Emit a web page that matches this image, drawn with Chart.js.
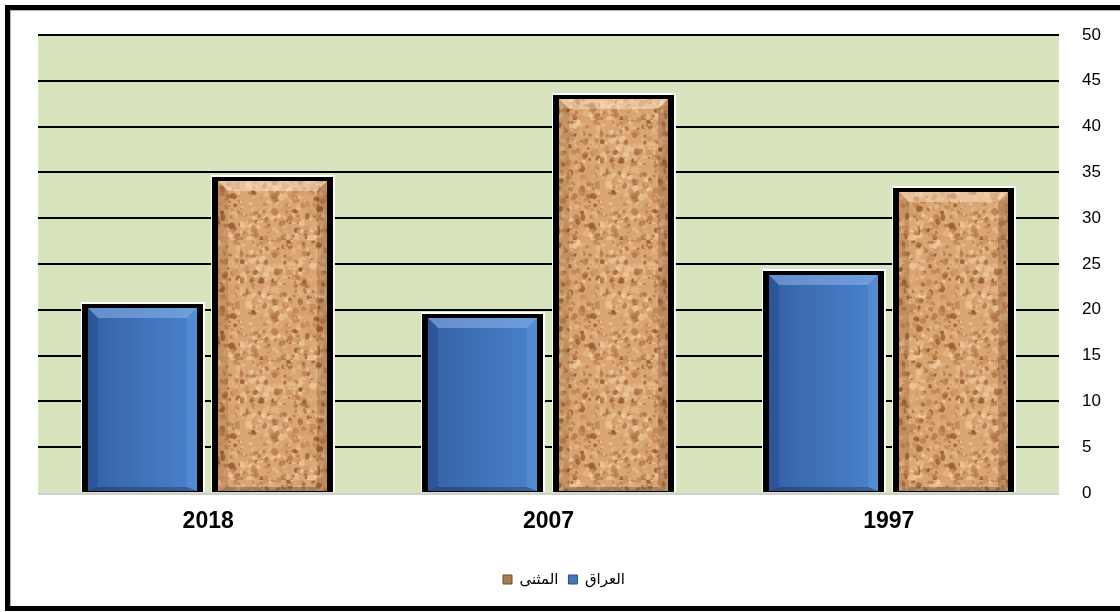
<!DOCTYPE html>
<html>
<head>
<meta charset="utf-8">
<script src="https://cdn.jsdelivr.net/npm/chart.js@4.4.1/dist/chart.umd.min.js"></script>
<style>
    html, body { margin: 0; padding: 0; background: #fff; }
    #wrap { position: relative; width: 1120px; height: 612px; overflow: hidden; }
    #frame { position: absolute; left: 5px; top: 5px; width: 1200px; height: 606px; box-sizing: border-box;
             border: 5px solid #000; box-shadow: inset 1px 1px 0 #b4b4b4; pointer-events: none; }
    canvas { position: absolute; left: 0; top: 0; }
</style>
</head>
<body>
<div id="wrap">
    <canvas id="chart" width="1120" height="612"></canvas>
    <div id="frame"></div>
</div>
<script>
const categories = ['2018', '2007', '1997'];
const iraqValues = [20.7, 19.6, 24.3];
const muthannaValues = [34.6, 43.6, 33.4];
const seriesNames = ['العراق', 'المثنى'];
const yMax = 50;
const yStep = 5;

// cork-like texture for the المثنى bars (styling only)
function makeCork() {
    const c = document.createElement('canvas');
    c.width = c.height = 120;
    const g = c.getContext('2d');
    g.fillStyle = '#d9a574';
    g.fillRect(0, 0, 120, 120);
    let s = 11;
    const rnd = () => { s = (s * 16807) % 2147483647; return s / 2147483647; };
    const tones = ['#f2cda2', '#e8b886', '#d39b66', '#b57844', '#93582d'];
    for (let i = 0; i < 900; i++) {
        const x = rnd() * 120, y = rnd() * 120, r = 1 + rnd() * 2.6;
        g.fillStyle = tones[Math.floor(rnd() * tones.length)];
        g.globalAlpha = 0.35 + rnd() * 0.5;
        g.beginPath();
        g.ellipse(x, y, r, r * (0.6 + rnd() * 0.6), rnd() * Math.PI, 0, Math.PI * 2);
        g.fill();
    }
    return c;
}

const ctx = document.getElementById('chart').getContext('2d');
const cork = ctx.createPattern(makeCork(), 'repeat');

function drawBar(c, el, kind) {
    const p = el.getProps(['x', 'y', 'base', 'width'], true);
    const L = Math.round(p.x - p.width / 2), R = Math.round(p.x + p.width / 2);
    const T = Math.round(p.y), B = Math.round(p.base);
    c.save();
    c.fillStyle = '#fff';
    c.fillRect(L, T - 1, R - L, B - T + 1);
    c.fillStyle = '#000';
    c.fillRect(L + 1, T + 1, R - L - 3, B - T - 1);

    const fl = L + 7, fr = R - 8, ft = T + 5, fb = B - 1;
    if (kind === 'blue') {
        const g = c.createLinearGradient(fl, 0, fr, 0);
        g.addColorStop(0, '#3561a5');
        g.addColorStop(1, '#4a83cb');
        c.fillStyle = g;
    } else {
        c.fillStyle = cork;
    }
    c.fillRect(fl, ft, fr - fl, fb - ft);

    const bv = 10;
    // top bevel
    c.beginPath();
    c.moveTo(fl, ft); c.lineTo(fr, ft); c.lineTo(fr - bv, ft + bv); c.lineTo(fl + bv, ft + bv); c.closePath();
    c.fillStyle = kind === 'blue' ? 'rgba(140,180,235,0.55)' : 'rgba(255,236,210,0.45)';
    c.fill();
    // left bevel
    c.beginPath();
    c.moveTo(fl, ft); c.lineTo(fl + bv, ft + bv); c.lineTo(fl + bv, fb - 4); c.lineTo(fl, fb); c.closePath();
    c.fillStyle = kind === 'blue' ? 'rgba(20,50,110,0.25)' : 'rgba(110,60,20,0.18)';
    c.fill();
    // right bevel
    c.beginPath();
    c.moveTo(fr, ft); c.lineTo(fr - bv, ft + bv); c.lineTo(fr - bv, fb - 4); c.lineTo(fr, fb); c.closePath();
    c.fillStyle = kind === 'blue' ? 'rgba(120,170,230,0.25)' : 'rgba(90,45,15,0.22)';
    c.fill();
    // bottom bevel
    c.beginPath();
    c.moveTo(fl, fb); c.lineTo(fl + bv, fb - 4); c.lineTo(fr - bv, fb - 4); c.lineTo(fr, fb); c.closePath();
    c.fillStyle = 'rgba(0,0,30,0.25)';
    c.fill();
    c.restore();
}

const barStyle = {
    id: 'barStyle',
    afterLayout(chart) {
        // legend sits a little left of the canvas centre in the reference
        chart.legend.left -= 15;
        chart.legend.right -= 15;
    },
    beforeDraw(chart) {
        const a = chart.chartArea, c = chart.ctx;
        c.save();
        c.fillStyle = '#d7e4bd';
        c.fillRect(a.left, a.top, a.right - a.left, a.bottom - a.top);
        c.restore();
    },
    afterDatasetsDraw(chart) {
        const c = chart.ctx;
        chart.getDatasetMeta(0).data.forEach(el => drawBar(c, el, 'blue'));
        chart.getDatasetMeta(1).data.forEach(el => drawBar(c, el, 'cork'));
        const a = chart.chartArea;
        const y0 = Math.round(chart.scales.y.getPixelForValue(0));
        c.save();
        c.fillStyle = '#cfcfcf';
        c.fillRect(a.left, y0, a.right - a.left, 2);
        c.restore();
    }
};

new Chart(ctx, {
    type: 'bar',
    data: {
        labels: categories,
        datasets: [
            { label: seriesNames[0], data: iraqValues, backgroundColor: 'rgba(0,0,0,0)', borderWidth: 0,
              categoryPercentage: 0.766, barPercentage: 0.95 },
            { label: seriesNames[1], data: muthannaValues, backgroundColor: 'rgba(0,0,0,0)', borderWidth: 0,
              categoryPercentage: 0.766, barPercentage: 0.95 }
        ]
    },
    options: {
        responsive: false,
        devicePixelRatio: 1,
        animation: false,
        layout: { padding: { left: 38, top: 35, right: 0, bottom: 15 } },
        scales: {
            x: {
                grid: { display: false },
                border: { display: false },
                ticks: { color: '#000', padding: 7, font: { family: 'Liberation Sans, Arial', size: 23, weight: 'bold' } },
                afterFit: scale => { scale.height = 69; }
            },
            y: {
                position: 'right',
                min: 0, max: yMax,
                ticks: { stepSize: yStep, color: '#000', padding: 23, font: { family: 'Liberation Sans, Arial', size: 17 } },
                grid: { color: ctx => ctx.tick && ctx.tick.value === 0 ? 'rgba(0,0,0,0)' : '#000', lineWidth: 2, drawTicks: false },
                border: { display: false },
                afterFit: scale => { scale.width = 61; }
            }
        },
        plugins: {
            tooltip: { enabled: false },
            legend: {
                position: 'bottom',
                labels: {
                    color: '#000',
                    boxWidth: 9, boxHeight: 9, padding: 10,
                    font: { family: 'Arial, Liberation Sans, DejaVu Sans', size: 15 },
                    generateLabels: chart => [
                        { text: seriesNames[1], fillStyle: '#a97c52', strokeStyle: '#6e4a2a', lineWidth: 1, datasetIndex: 1 },
                        { text: seriesNames[0], fillStyle: '#4677b8', strokeStyle: '#2c4f80', lineWidth: 1, datasetIndex: 0 }
                    ]
                }
            }
        }
    },
    plugins: [barStyle]
});
</script>
</body>
</html>
